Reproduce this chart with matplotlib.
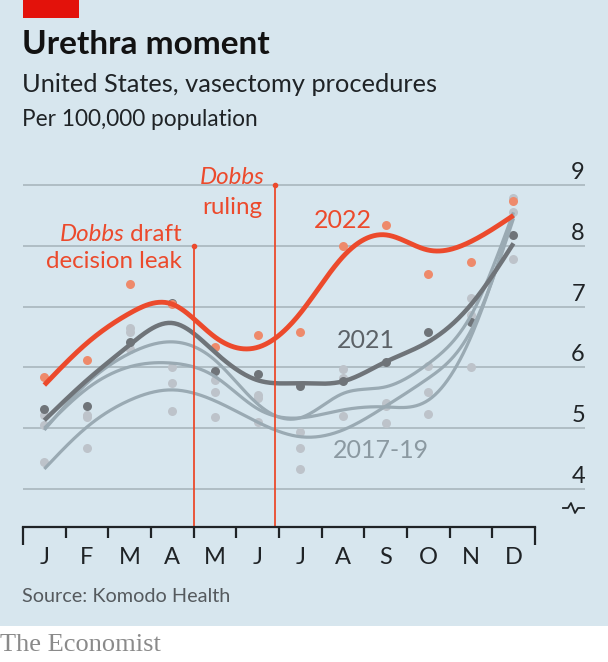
import numpy as np
import matplotlib.pyplot as plt
from matplotlib.lines import Line2D
from matplotlib.patches import Rectangle

# ---- data (per 100,000 population) ----
months = ['J', 'F', 'M', 'A', 'M', 'J', 'J', 'A', 'S', 'O', 'N', 'D']

dots_2022 = [5.84, 6.12, 7.37, 7.04, 6.33, 6.54, 6.59, 8.00, 8.34, 7.54, 7.73, 8.73]
dots_2021 = [5.32, 5.37, 6.42, 7.06, 5.94, 5.89, 5.70, 5.77, 6.09, 6.58, 6.74, 8.18]
dots_2017 = [5.21, 5.22, 6.65, 6.01, 5.80, 5.55, 4.93, 5.98, 5.42, 6.03, 7.14, 8.78]
dots_2018 = [5.05, 5.18, 6.59, 5.75, 5.59, 5.49, 4.68, 5.82, 5.37, 5.59, 6.86, 8.56]
dots_2019 = [4.45, 4.67, 6.30, 5.28, 5.19, 5.11, 4.33, 5.20, 5.09, 5.24, 6.01, 7.79]

# smoothed trends as drawn
trend_2022 = [5.71, 6.40, 6.89, 7.04, 6.50, 6.33, 6.89, 7.82, 8.18, 7.93, 8.07, 8.50]
trend_2021 = [5.13, 5.79, 6.37, 6.73, 6.25, 5.79, 5.74, 5.77, 6.09, 6.42, 7.03, 8.04]
trend_a = [4.97, 5.74, 6.23, 6.42, 6.12, 5.40, 5.17, 5.57, 5.68, 6.06, 6.85, 8.55]
trend_b = [5.00, 5.65, 6.01, 6.07, 5.85, 5.32, 5.17, 5.30, 5.35, 5.46, 6.50, 8.50]
trend_c = [4.33, 5.02, 5.46, 5.63, 5.45, 5.10, 4.86, 4.97, 5.36, 5.82, 6.60, 8.45]

leak_x, leak_top = 3.5, 8.0       # May 2nd 2022
ruling_x, ruling_top = 5.42, 9.0  # June 24th 2022

yticks = [4, 5, 6, 7, 8, 9]

RED = '#ec4a2c'
DOT_RED = '#ee8a6b'
DARK = '#6f7479'
LIGHT = '#9aaab3'
DOT_LIGHT = '#bdc3ca'
BG = '#d7e6ee'
GRID = '#a9b6bd'
TXT = '#1f2326'

plt.rcParams['font.family'] = ['Lato', 'DejaVu Sans']


def smooth(y, n=300):
    # natural cubic spline through the monthly values
    y = np.asarray(y, float)
    x = np.arange(len(y), dtype=float)
    m = len(x)
    h = np.diff(x)
    A = np.zeros((m, m))
    r = np.zeros(m)
    A[0, 0] = A[-1, -1] = 1
    for i in range(1, m - 1):
        A[i, i - 1] = h[i - 1]
        A[i, i] = 2 * (h[i - 1] + h[i])
        A[i, i + 1] = h[i]
        r[i] = 6 * ((y[i + 1] - y[i]) / h[i] - (y[i] - y[i - 1]) / h[i - 1])
    M = np.linalg.solve(A, r)
    xs = np.linspace(x[0], x[-1], n)
    k = np.clip(np.searchsorted(x, xs) - 1, 0, m - 2)
    t = xs - x[k]
    hk = h[k]
    a = (M[k + 1] - M[k]) / (6 * hk)
    b = M[k] / 2
    c = (y[k + 1] - y[k]) / hk - hk * (2 * M[k] + M[k + 1]) / 6
    return xs, y[k] + c * t + b * t ** 2 + a * t ** 3


W, H = 608, 662
fig = plt.figure(figsize=(W / 100, H / 100), dpi=100)
fig.patch.set_facecolor('white')


def fx(px):
    return px / W


def fy(py):
    return 1 - py / H


fig.add_artist(Rectangle((0, fy(626)), 1, 1 - fy(626), transform=fig.transFigure,
                         facecolor=BG, edgecolor='none', zorder=-10))
fig.add_artist(Rectangle((fx(23), fy(18)), fx(56), 18 / H, transform=fig.transFigure,
                         facecolor='#e3120b', edgecolor='none', zorder=-5))

ax = fig.add_axes([fx(23), fy(527), fx(585) - fx(23), fy(160) - fy(527)])
ax.set_facecolor('none')
ax.set_xlim(-0.5, -0.5 + (585 - 23) / 42.65)
ax.set_ylim(4 - 38 / 60.8, 4 + 329 / 60.8)

for v in yticks:
    ax.axhline(v, color=GRID, lw=1.2, zorder=1)
    ax.text(1.0, v + 0.1, str(v), transform=ax.get_yaxis_transform(),
            ha='right', va='baseline', fontsize=17, color=TXT)

x = np.arange(len(months))

# dots
for d in (dots_2017, dots_2018, dots_2019):
    ax.scatter(x, d, s=42, color=DOT_LIGHT, zorder=2, linewidths=0)
ax.scatter(x, dots_2021, s=42, color=DARK, zorder=2.2, linewidths=0)
ax.scatter(x, dots_2022, s=42, color=DOT_RED, zorder=2.3, linewidths=0)

# trend lines
for tr in (trend_a, trend_b, trend_c):
    xs, ys = smooth(tr)
    ax.plot(xs, ys, color=LIGHT, lw=2.3, zorder=3, solid_capstyle='butt')
xs, ys = smooth(trend_2021)
ax.plot(xs, ys, color=DARK, lw=3.2, zorder=4, solid_capstyle='butt')
xs, ys = smooth(trend_2022)
ax.plot(xs, ys, color=RED, lw=3.5, zorder=5, solid_capstyle='butt')

# Dobbs markers
ybot = ax.get_ylim()[0]
for ex, top in ((leak_x, leak_top), (ruling_x, ruling_top)):
    ax.plot([ex, ex], [ybot, top], color=RED, lw=1.3, zorder=6, clip_on=False)
    ax.plot([ex], [top], 'o', color=RED, ms=3, zorder=6)

# x axis
for s in ('top', 'left', 'right'):
    ax.spines[s].set_visible(False)
ax.spines['bottom'].set_bounds(-0.5, 11.5)
ax.spines['bottom'].set_color(TXT)
ax.spines['bottom'].set_linewidth(1.6)
ax.spines['bottom'].set_zorder(7)
bounds = np.arange(-0.5, 12.0, 1.0)
ax.set_xticks([bounds[0], bounds[-1]])
ax.set_xticks(bounds[1:-1], minor=True)
ax.tick_params(axis='x', which='major', length=13, width=1.6, color=TXT, labelbottom=False)
ax.tick_params(axis='x', which='minor', length=8, width=1.6, color=TXT, labelbottom=False)
ax.set_yticks([])
for i, m in enumerate(months):
    ax.text(i, -30 / (527 - 160), m, transform=ax.get_xaxis_transform(),
            ha='center', va='center', fontsize=17, color=TXT)

# axis break symbol
brk = Line2D([fx(563), fx(568), fx(571), fx(575), fx(578), fx(584)],
             [fy(508), fy(508), fy(503), fy(513), fy(508), fy(508)],
             transform=fig.transFigure, color=TXT, lw=1.3)
fig.add_artist(brk)

# series labels
ax.text(7.0, 8.42, '2022', ha='center', va='center', fontsize=18, color=RED)
ax.text(7.55, 6.44, '2021', ha='center', va='center', fontsize=18, color='#5c6267')
ax.text(7.9, 4.63, '2017-19', ha='center', va='center', fontsize=18, color='#8b99a1')

# annotations
t1 = fig.text(fx(182), fy(245), ' draft', ha='right', va='bottom', fontsize=17.4, color=RED)
fig.add_artist(plt.Annotation('Dobbs', xy=(0, 0), xycoords=t1, ha='right', va='bottom',
                              fontsize=17.4, color=RED, style='italic'))
fig.text(fx(182), fy(262), 'decision leak', ha='right', va='center', fontsize=17.4, color=RED)
fig.text(fx(232), fy(177), 'Dobbs', ha='center', va='center', fontsize=17.4, color=RED, style='italic')
fig.text(fx(232), fy(207), 'ruling', ha='center', va='center', fontsize=17.4, color=RED)

# titles
fig.text(fx(22), fy(45), 'Urethra moment', ha='left', va='center', fontsize=24,
         fontweight='bold', color='#121212')
fig.text(fx(22), fy(85), 'United States, vasectomy procedures', ha='left', va='center',
         fontsize=18.3, color=TXT)
fig.text(fx(22), fy(119), 'Per 100,000 population', ha='left', va='center',
         fontsize=16.3, color=TXT)
fig.text(fx(22), fy(596), 'Source: Komodo Health', ha='left', va='center',
         fontsize=14.3, color='#555a5e')
fig.text(fx(0), fy(645), 'The Economist', ha='left', va='center', fontsize=19,
         family=['Liberation Serif', 'DejaVu Serif'], color='#8a8a8a')

fig.savefig('out.png', dpi=100, facecolor=fig.get_facecolor())
